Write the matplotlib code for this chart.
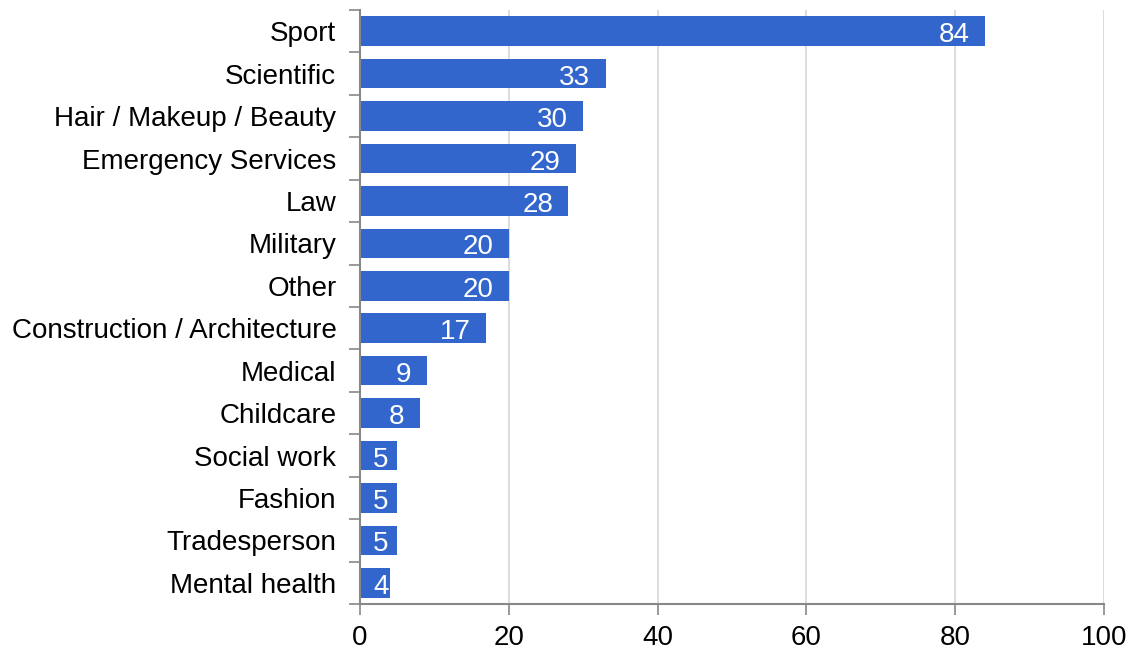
import matplotlib
matplotlib.use("Agg")
import matplotlib.pyplot as plt
from matplotlib.ticker import FixedLocator

categories = [
    "Sport", "Scientific", "Hair / Makeup / Beauty", "Emergency Services",
    "Law", "Military", "Other", "Construction / Architecture", "Medical",
    "Childcare", "Social work", "Fashion", "Tradesperson", "Mental health",
]
counts = [84, 33, 30, 29, 28, 20, 20, 17, 9, 8, 5, 5, 5, 4]
x_ticks = [0, 20, 40, 60, 80, 100]

BAR = "#3366cc"
AXIS = "#888888"
GRID = "#d9d9d9"
FS = 20

plt.rcParams["font.family"] = ["Liberation Sans", "DejaVu Sans"]

fig = plt.figure(figsize=(11.32, 6.5), dpi=100)
ax = fig.add_axes([360 / 1132, 1 - 604 / 650, (1104 - 360) / 1132, (604 - 10) / 650])

pos = list(range(len(categories)))
ax.barh(pos, counts, height=0.7, color=BAR, zorder=3)

ax.set_xlim(0, 100)
ax.set_ylim(len(categories) - 0.5, -0.5)

ax.set_xticks(x_ticks)
ax.set_xticklabels([str(t) for t in x_ticks], fontsize=FS)
ax.set_yticks(pos)
ax.set_yticklabels(categories, fontsize=FS)
ax.yaxis.set_minor_locator(FixedLocator([p - 0.5 for p in pos] + [len(pos) - 0.5]))

ax.tick_params(axis="y", which="major", length=0, pad=17)
ax.tick_params(axis="y", which="minor", length=8, width=1.2, color=AXIS)
ax.tick_params(axis="x", which="major", length=8, width=1.2, color=AXIS, pad=7)

ax.grid(axis="x", color=GRID, linewidth=1.3, zorder=0)
for side in ("top", "right"):
    ax.spines[side].set_visible(False)
for side in ("left", "bottom"):
    ax.spines[side].set_color(AXIS)
    ax.spines[side].set_linewidth(1.5)
    ax.spines[side].set_zorder(4)

# value labels inside bar ends; fall back to left placement for short bars
fig.canvas.draw()
renderer = fig.canvas.get_renderer()
px_per_unit = ax.transData.transform((1, 0))[0] - ax.transData.transform((0, 0))[0]
for p, v in zip(pos, counts):
    t = ax.annotate(str(v), xy=(v, p), xytext=(-11, -8), textcoords="offset points",
                    ha="right", va="baseline", color="white", fontsize=FS, zorder=5)
    w = t.get_window_extent(renderer).width
    if v * px_per_unit - 15 - w < 13:
        t.remove()
        ax.annotate(str(v), xy=(0, p), xytext=(9.5, -8), textcoords="offset points",
                    ha="left", va="baseline", color="white", fontsize=FS, zorder=5)

fig.savefig("out.png", dpi=100)
